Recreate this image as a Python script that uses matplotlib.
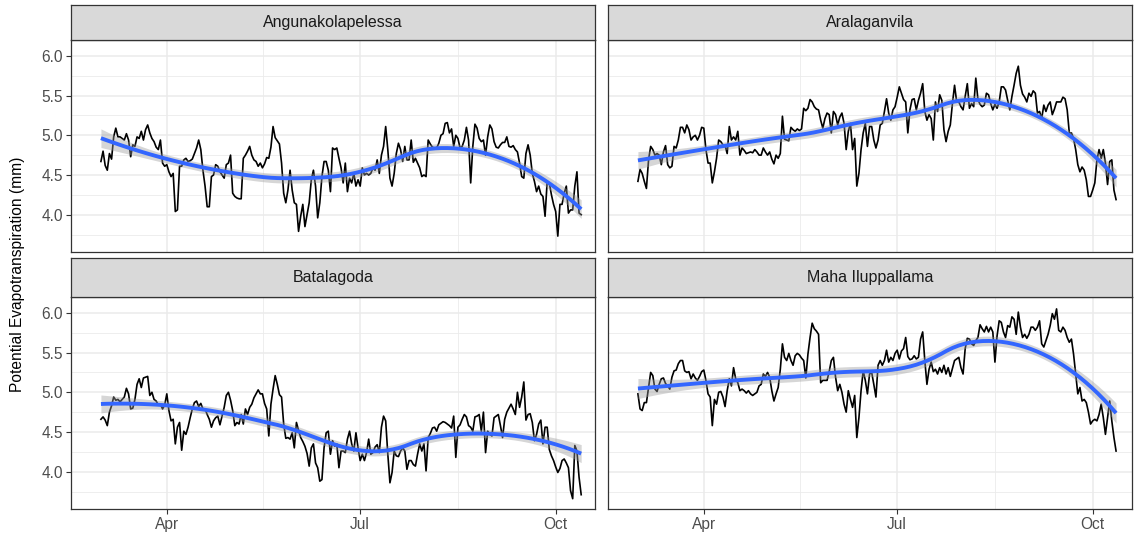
import numpy as np
import pandas as pd
import matplotlib
matplotlib.use("Agg")
import matplotlib.pyplot as plt
import matplotlib.dates as mdates
from matplotlib.ticker import FixedLocator

plt.rcParams['font.family'] = ['Liberation Sans', 'DejaVu Sans']

start_date = "2017-03-01"
sites = ["Angunakolapelessa", "Aralaganvila", "Batalagoda", "Maha Iluppallama"]

pet_angunakolapelessa = [
    4.67, 4.80, 4.62, 4.56, 4.77, 4.70, 4.98, 5.09, 4.98, 4.98,
    4.96, 4.94, 5.02, 4.94, 4.73, 4.88, 4.86, 4.98, 4.96, 5.05,
    4.94, 5.07, 5.13, 5.03, 4.96, 4.92, 4.85, 4.82, 4.94, 4.65,
    4.61, 4.63, 4.54, 4.48, 4.52, 4.04, 4.06, 4.61, 4.61, 4.69,
    4.71, 4.67, 4.68, 4.70, 4.77, 4.84, 4.94, 4.82, 4.56, 4.36,
    4.10, 4.10, 4.48, 4.50, 4.63, 4.61, 4.54, 4.50, 4.46, 4.63,
    4.65, 4.75, 4.27, 4.23, 4.21, 4.20, 4.20, 4.71, 4.75, 4.80,
    4.86, 4.75, 4.69, 4.67, 4.61, 4.65,
    4.59, 4.64, 4.72, 4.71, 4.85, 5.11, 4.97, 4.93, 4.89, 4.65,
    4.27, 4.15, 4.31, 4.56, 4.31, 4.15, 4.13, 3.79, 3.98, 4.13,
    3.85, 4.00, 4.15, 4.44, 4.56, 4.36, 3.96, 4.15, 4.48, 4.67,
    4.67, 4.56, 4.29, 4.84, 4.82, 4.84, 4.71, 4.59, 4.40, 4.65,
    4.29, 4.46, 4.40, 4.52, 4.36, 4.44, 4.36, 4.59, 4.50, 4.52,
    4.50, 4.52, 4.59, 4.56, 4.69, 4.52, 4.75, 4.86, 5.11, 4.82,
    4.46, 4.36, 4.52, 4.77, 4.90, 4.82, 4.67, 4.86, 4.69, 4.69,
    4.94, 4.66, 4.71, 4.65, 4.59,
    4.48, 4.50, 4.48, 4.94, 4.89, 4.85, 4.84, 4.84, 4.90, 5.00,
    5.02, 5.15, 5.16, 5.03, 5.08, 4.86, 5.00, 4.96, 4.84, 4.86,
    4.94, 5.10, 4.94, 4.40, 4.86, 5.14, 5.09, 4.96, 4.92, 4.94,
    4.75, 4.98, 5.13, 5.08, 4.92, 4.85, 4.84, 4.88, 4.91, 4.91,
    4.98, 4.86, 4.85, 4.87, 4.82, 4.79, 4.65, 4.48, 4.46, 4.77,
    4.88, 4.75, 4.52, 4.42, 4.29, 4.36, 4.26, 4.23, 3.98, 4.42,
    4.40, 4.25, 4.13, 4.04, 3.73, 4.13, 4.13, 4.27, 4.36, 4.02,
    4.06, 4.06, 4.36, 4.54, 4.02, 4.00,
]

pet_aralaganvila = [
    4.42, 4.57, 4.52, 4.42, 4.33, 4.69, 4.86, 4.82, 4.75, 4.77,
    4.75, 4.63, 4.79, 4.87, 4.63, 4.59, 4.61, 4.86, 4.84, 4.94,
    5.10, 5.10, 5.03, 5.13, 5.07, 4.94, 4.98, 5.00, 4.94, 5.00,
    5.10, 5.09, 4.82, 4.65, 4.65, 4.40, 4.54, 4.71, 4.94, 4.92,
    4.88, 4.87, 4.77, 5.11, 4.94, 4.98, 4.94, 5.05, 4.75, 4.84,
    4.81, 4.77, 4.78, 4.79, 4.78, 4.82, 4.79, 4.75, 4.75, 4.84,
    4.79, 4.75, 4.79, 4.70, 4.64, 4.75, 4.71, 4.77, 5.24, 4.95,
    4.94, 4.93, 5.10, 5.07,
    5.05, 5.08, 5.06, 5.08, 5.34, 5.31, 5.34, 5.45, 5.42, 5.36,
    5.33, 5.32, 5.19, 5.09, 5.21, 5.28, 5.26, 5.03, 5.30, 5.26,
    5.13, 5.23, 5.28, 5.15, 4.82, 5.05, 5.15, 4.82, 4.96, 4.36,
    4.52, 4.82, 5.03, 5.15, 4.86, 5.11, 5.11, 4.94, 4.84, 4.94,
    5.13, 5.15, 5.30, 5.46, 5.28, 5.19, 5.32, 5.36, 5.48, 5.61,
    5.53, 5.45, 5.42, 5.03, 5.32, 5.45, 5.46, 5.32, 5.44, 5.53,
    5.65, 5.30, 5.19, 5.26, 5.21, 4.94, 5.42, 5.30, 5.51, 5.44,
    5.07, 4.92, 5.05, 5.13, 5.40, 5.63, 5.42,
    5.42, 5.36, 5.32, 5.49, 5.65, 5.34, 5.40, 5.36, 5.72, 5.45,
    5.39, 5.36, 5.38, 5.53, 5.51, 5.40, 5.32, 5.39, 5.34, 5.42,
    5.61, 5.61, 5.57, 5.44, 5.32, 5.49, 5.63, 5.78, 5.87, 5.63,
    5.52, 5.48, 5.42, 5.53, 5.49, 5.56, 5.53, 5.28, 5.30, 5.21,
    5.38, 5.30, 5.38, 5.42, 5.26, 5.33, 5.42, 5.42, 5.42, 5.48,
    5.46, 5.32, 5.03, 5.03, 4.96, 4.82, 4.63, 4.54, 4.60, 4.56,
    4.44, 4.23, 4.23, 4.31, 4.40, 4.69, 4.82, 4.71, 4.82, 4.65,
    4.38, 4.67, 4.69, 4.31, 4.19,
]

pet_batalagoda = [
    4.66, 4.69, 4.65, 4.58, 4.75, 4.83, 4.94, 4.90, 4.91, 4.88,
    4.91, 4.94, 5.05, 4.98, 4.79, 4.80, 4.91, 5.10, 5.17, 5.06,
    5.18, 5.19, 5.20, 4.96, 5.00, 4.91, 4.89, 4.84, 4.85, 4.79,
    4.84, 4.98, 4.77, 4.64, 4.66, 4.35, 4.56, 4.62, 4.27, 4.51,
    4.47, 4.56, 4.68, 4.79, 4.87, 4.89, 4.82, 4.86, 4.79, 4.79,
    4.72, 4.66, 4.56, 4.64, 4.68, 4.70, 4.59, 4.70, 4.81, 4.96,
    5.00, 4.90, 4.77, 4.58, 4.62, 4.60, 4.72, 4.60, 4.79, 4.72,
    4.81, 4.85, 4.93, 4.98, 5.03, 4.98,
    4.98, 4.86, 4.79, 4.45, 4.85, 5.04, 5.21, 5.10, 4.97, 4.94,
    4.60, 4.42, 4.43, 4.41, 4.49, 4.30, 4.62, 4.52, 4.43, 4.38,
    4.32, 4.23, 4.07, 4.30, 4.35, 4.11, 4.05, 3.88, 3.90, 4.30,
    4.49, 4.51, 4.22, 4.39, 4.32, 4.35, 4.05, 4.26, 4.26, 4.24,
    4.41, 4.51, 4.35, 4.26, 4.49, 4.30, 4.14, 4.22, 4.14, 4.24,
    4.41, 4.22, 4.24, 4.31, 4.34, 4.24, 4.56, 4.70, 4.64, 4.22,
    3.86, 3.99, 4.26, 4.20, 4.19, 4.26, 4.30, 4.26, 4.03, 4.14,
    4.14, 4.09, 4.07, 4.22, 4.35,
    4.26, 4.35, 4.01, 4.43, 4.48, 4.55, 4.56, 4.51, 4.59, 4.61,
    4.63, 4.62, 4.60, 4.58, 4.55, 4.70, 4.18, 4.56, 4.59, 4.66,
    4.72, 4.69, 4.58, 4.56, 4.51, 4.69, 4.70, 4.72, 4.51, 4.75,
    4.24, 4.51, 4.47, 4.45, 4.68, 4.70, 4.72, 4.58, 4.43, 4.66,
    4.75, 4.80, 4.85, 4.79, 4.72, 5.00, 4.81, 4.94, 5.13, 4.65,
    4.72, 4.73, 4.62, 4.39, 4.47, 4.60, 4.65, 4.35, 4.56, 4.56,
    4.28, 4.20, 4.14, 4.06, 3.99, 4.04, 4.14, 4.16, 4.11, 4.05,
    3.76, 3.66, 4.33, 4.26, 3.93, 3.71,
]

pet_maha_iluppallama = [
    4.98, 4.79, 4.77, 4.87, 4.87, 5.06, 5.25, 5.21, 5.04, 5.01,
    5.10, 5.17, 5.18, 5.11, 5.08, 5.04, 5.19, 5.27, 5.28, 5.36,
    5.40, 5.40, 5.27, 5.25, 5.26, 5.17, 5.23, 5.18, 5.15, 5.20,
    5.26, 5.28, 5.15, 4.98, 4.94, 4.58, 4.91, 4.85, 5.00, 5.01,
    4.94, 4.82, 5.02, 5.17, 5.08, 5.31, 5.17, 5.12, 5.02, 5.04,
    5.02, 4.99, 5.02, 4.98, 4.96, 4.98, 5.00, 5.08, 5.10, 5.23,
    5.20, 5.25, 5.19, 5.02, 4.89, 4.98, 5.06, 5.29, 5.61, 5.44,
    5.40, 5.49, 5.40, 5.34,
    5.46, 5.49, 5.47, 5.43, 5.40, 5.18, 5.48, 5.69, 5.87, 5.80,
    5.77, 5.73, 5.12, 5.15, 5.15, 5.15, 5.26, 5.40, 5.44, 5.19,
    5.02, 5.10, 5.00, 4.85, 4.75, 5.02, 4.91, 4.81, 4.96, 4.43,
    4.68, 5.02, 5.27, 5.15, 4.98, 5.23, 5.25, 5.10, 4.94, 5.34,
    5.40, 5.34, 5.40, 5.53, 5.38, 5.44, 5.40, 5.49, 5.53, 5.42,
    5.52, 5.55, 5.69, 5.45, 5.41, 5.42, 5.46, 5.42, 5.44, 5.67,
    5.76, 5.40, 5.10, 5.29, 5.38, 5.26, 5.29, 5.23, 5.31, 5.25,
    5.34, 5.23, 5.31, 5.20, 5.30, 5.40, 5.42,
    5.44, 5.31, 5.23, 5.55, 5.68, 5.67, 5.61, 5.59, 5.65, 5.69,
    5.85, 5.80, 5.76, 5.83, 5.76, 5.82, 5.76, 5.38, 5.71, 5.90,
    5.88, 5.76, 5.69, 5.84, 5.82, 5.95, 5.92, 5.73, 6.01, 5.82,
    5.69, 5.73, 5.68, 5.73, 5.82, 5.82, 5.78, 5.82, 5.90, 5.61,
    5.57, 5.65, 5.73, 5.84, 5.99, 5.92, 6.05, 5.78, 5.76, 5.82,
    5.78, 5.69, 5.63, 5.67, 5.48, 5.23, 4.98, 5.06, 4.89, 4.91,
    4.87, 4.75, 4.60, 4.64, 4.66, 4.64, 4.72, 4.85, 4.68, 4.47,
    4.68, 4.89, 4.64, 4.43, 4.26,
]

series = [pet_angunakolapelessa, pet_aralaganvila, pet_batalagoda, pet_maha_iluppallama]
y_ticks = [4.0, 4.5, 5.0, 5.5, 6.0]
y_tick_labels = ["4.0", "4.5", "5.0", "5.5", "6.0"]
x_tick_dates = ["2017-04-01", "2017-07-01", "2017-10-01"]
x_tick_labels = ["Apr", "Jul", "Oct"]
x_limits = ["2017-02-14 22:00", "2017-10-19 12:00"]
y_limits = (3.53, 6.20)
y_label = "Potential Evapotranspiration (mm)"


def loess(x, y, xs, span=0.75):
    x = np.asarray(x, float)
    y = np.asarray(y, float)
    n = len(x)
    q = int(np.floor(n * span))

    def rows(points):
        out = []
        for x0 in points:
            d = np.abs(x - x0)
            h = np.sort(d)[q - 1]
            w = np.clip(1 - (d / h) ** 3, 0, None) ** 3
            X = np.column_stack([np.ones(n), x - x0, (x - x0) ** 2])
            XtW = X.T * w
            A = np.linalg.solve(XtW @ X, XtW)
            out.append(A[0])
        return np.array(out)

    L = rows(x)
    resid = y - L @ y
    IL = np.eye(n) - L
    delta1 = np.trace(IL.T @ IL)
    sigma2 = np.sum(resid ** 2) / delta1
    Ls = rows(xs)
    fit = Ls @ y
    se = np.sqrt(sigma2 * np.sum(Ls ** 2, axis=1))
    return fit, se


W, H = 1141, 539
fig = plt.figure(figsize=(W / 100, H / 100), dpi=100)


def add_px(l, t, r, b):
    return fig.add_axes([l / W, 1 - b / H, (r - l) / W, (b - t) / H])


cols = [(71, 595), (608, 1132)]
rows_px = [(5, 40, 252), (258, 297, 509)]
border = "#333333"
grid_c = "#EBEBEB"

t0 = pd.Timestamp(start_date)
major_num = mdates.date2num([pd.Timestamp(d) for d in x_tick_dates])
minor_num = [(major_num[i] + major_num[i + 1]) / 2 for i in range(len(major_num) - 1)]
xlim_num = mdates.date2num([pd.Timestamp(d) for d in x_limits])

for k, (name, vals) in enumerate(zip(sites, series)):
    r, c = divmod(k, 2)
    l, rr = cols[c]
    st, pt, pb = rows_px[r]
    vals = np.asarray(vals)
    dates = pd.date_range(t0, periods=len(vals), freq="D")
    xnum = mdates.date2num(dates)

    ax = add_px(l, pt, rr, pb)
    ax.set_facecolor("white")
    for yv in [3.75, 4.25, 4.75, 5.25, 5.75]:
        ax.axhline(yv, color=grid_c, lw=0.6, zorder=0)
    for yv in y_ticks:
        ax.axhline(yv, color=grid_c, lw=1.1, zorder=0)
    for xv in minor_num:
        ax.axvline(xv, color=grid_c, lw=0.6, zorder=0)
    for xv in major_num:
        ax.axvline(xv, color=grid_c, lw=1.1, zorder=0)

    ax.plot(xnum, vals, color="black", lw=1.2, zorder=2, solid_joinstyle="round")

    xs = np.linspace(xnum[0], xnum[-1], 80)
    fit, se = loess(xnum, vals, xs)
    ax.fill_between(xs, fit - 1.97 * se, fit + 1.97 * se, color="#999999", alpha=0.4, lw=0, zorder=3)
    ax.plot(xs, fit, color="#3366FF", lw=2.8, zorder=4, solid_capstyle="butt")

    ax.set_xlim(*xlim_num)
    ax.set_ylim(*y_limits)

    ax.xaxis.set_major_locator(FixedLocator(major_num))
    ax.yaxis.set_major_locator(FixedLocator(y_ticks))
    ax.set_xticklabels(x_tick_labels if r == 1 else [])
    ax.set_yticklabels(y_tick_labels if c == 0 else [])
    ax.tick_params(axis="both", which="major", length=3.5, width=0.8,
                   color=border, labelsize=11.2, labelcolor="#4D4D4D", pad=2.5)
    if r == 0:
        ax.tick_params(axis="x", length=0)
    if c == 1:
        ax.tick_params(axis="y", length=0)
    for sp in ax.spines.values():
        sp.set_color(border)
        sp.set_linewidth(0.9)

    sax = add_px(l, st, rr, pt)
    sax.set_facecolor("#D9D9D9")
    sax.set_xticks([])
    sax.set_yticks([])
    for sp in sax.spines.values():
        sp.set_color(border)
        sp.set_linewidth(0.9)
    sax.text(0.5, 0.5, name, ha="center", va="center", fontsize=11.5, color="#1A1A1A",
             transform=sax.transAxes)

fig.text(18 / W, 1 - 274 / H, y_label, rotation=90, ha="center", va="center",
         fontsize=11.2, color="black")

fig.savefig("out.png", dpi=100)
